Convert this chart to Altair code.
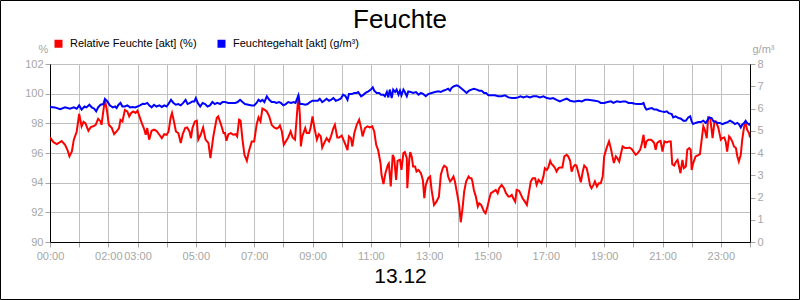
import altair as alt
import pandas as pd

# ---------------- data ----------------
# time in minutes after midnight (13.12)
RED_MIN = [0, 7, 14, 24, 31, 36, 40, 45, 49, 55, 60, 65, 69, 73, 79, 84, 89, 94, 99, 104, 106, 110, 113, 117, 121, 127, 132, 137, 142, 145, 149, 154, 159, 163, 167, 171, 176, 180, 184, 189, 193, 197, 200, 204, 209, 214, 219, 225, 230, 235, 240, 244, 248, 251, 255, 259, 264, 269, 273, 278, 282, 287, 290, 293, 298, 302, 305, 310, 315, 320, 326, 330, 336, 343, 346, 351, 357,
           360, 363, 367, 372, 377, 382, 385, 389, 392, 396, 400, 405, 409, 415, 420, 425, 429, 433, 437, 441, 446, 451, 456, 461, 466, 470, 473, 477, 481, 485, 490, 495, 499, 504, 508, 511, 514, 516, 519, 525, 528, 533, 536, 540, 544, 549, 553, 557, 560, 564, 569, 574, 578, 583, 586, 591, 595, 600, 605, 608, 612, 615, 619, 622, 626, 631, 636, 640, 643, 648, 653, 658, 663, 667, 671, 675, 680, 682, 686, 690, 695, 697, 701, 705, 708, 712, 715, 719,
           720, 723, 727, 730, 734, 735, 739, 741, 744, 747, 751, 754, 758, 763, 767, 770, 773, 778, 782, 785, 790, 795, 800, 804, 808, 811, 816, 819, 823, 826, 830, 833, 838, 842, 845, 849, 852, 856, 861, 864, 867, 869, 872, 876, 880, 883, 887, 890, 893, 896, 900, 904, 907, 912, 917, 921, 924, 929, 934, 938, 943, 946, 950, 953, 957, 960, 965, 969, 972, 977, 981, 985, 989, 993, 998, 1001, 1005, 1008, 1011, 1015, 1018, 1022, 1025, 1029, 1032, 1035, 1039, 1042, 1046, 1049, 1054, 1058, 1063, 1066, 1070, 1073, 1077,
           1080, 1083, 1088, 1092, 1096, 1099, 1104, 1107, 1111, 1114, 1118, 1121, 1125, 1129, 1133, 1137, 1140, 1145, 1150, 1154, 1157, 1160, 1164, 1167, 1171, 1174, 1178, 1183, 1188, 1192, 1197, 1201, 1205, 1209, 1214, 1217, 1221, 1224, 1227, 1231, 1236, 1239, 1243, 1246, 1249, 1253, 1256, 1260, 1264, 1269, 1273, 1277, 1280, 1284, 1288, 1291, 1294, 1297, 1301, 1304, 1308, 1311, 1315, 1318, 1320, 1323, 1328, 1332, 1337, 1341, 1344, 1347, 1351, 1354, 1358, 1361, 1363, 1367, 1370, 1375, 1380, 1383, 1387, 1390, 1393, 1397, 1400, 1404, 1407, 1411, 1414, 1417, 1421, 1424, 1428, 1431, 1434, 1438, 1440]
RED_PCT = [97.05, 96.73, 96.6, 96.8, 96.55, 96.2, 95.77, 96.1, 96.9, 97.45, 98.63, 97.8, 98.1, 98.0, 97.5, 97.75, 97.8, 97.9, 98.3, 98.13, 97.9, 98.9, 99.57, 98.9, 97.9, 97.7, 97.27, 97.45, 97.68, 98.24, 98.13, 98.9, 98.8, 98.47, 98.7, 98.8, 98.7, 98.85, 98.47, 98.0, 97.68, 97.23, 97.68, 96.9, 97.5, 97.57, 97.5, 97.23, 97.0, 97.27, 97.23, 97.45, 98.36, 98.7, 98.13, 97.45, 97.34, 96.67, 97.27, 97.68, 97.72, 97.45, 97.0, 97.68, 98.13, 98.18, 96.9, 97.23, 97.72, 96.9, 96.67, 95.65, 97.12, 98.36, 98.47, 98.0, 97.34,
           97.34, 96.82, 97.27, 97.34, 97.23, 97.27, 97.12, 98.24, 98.18, 96.9, 95.88, 95.47, 96.1, 96.78, 96.78, 97.9, 98.4, 98.13, 98.99, 98.92, 98.8, 98.47, 97.9, 97.72, 97.64, 97.72, 97.86, 97.45, 96.55, 96.78, 97.05, 97.45, 97.05, 96.9, 98.58, 99.89, 98.58, 96.44, 97.12, 97.68, 97.34, 97.34, 97.68, 98.47, 97.68, 96.9, 97.27, 97.12, 96.37, 96.67, 97.0, 96.78, 97.12, 97.68, 97.9, 97.05, 97.05, 97.18, 96.78, 96.55, 96.2, 97.12, 97.0, 96.44, 97.34, 97.9, 98.24, 97.68, 97.12, 97.68, 97.8, 97.72, 97.8, 97.45, 96.55, 96.2, 95.3, 94.53, 93.9, 94.64, 95.2, 95.3, 93.74, 95.88, 95.65, 94.19, 95.47, 95.54,
           95.54, 94.86, 95.99, 96.06, 95.65, 93.63, 95.54, 96.06, 95.77, 95.09, 95.09, 94.75, 94.86, 94.64, 94.19, 92.95, 93.85, 94.3, 94.41, 93.51, 92.5, 92.72, 93.06, 94.53, 94.98, 95.14, 95.02, 94.41, 94.08, 94.19, 94.41, 94.08, 93.18, 92.39, 91.33, 92.39, 93.4, 94.08, 94.41, 94.3, 94.3, 94.08, 93.51, 93.06, 92.39, 92.61, 92.5, 92.27, 92.05, 91.94, 92.39, 92.95, 93.29, 93.4, 93.51, 93.29, 93.63, 93.85, 93.63, 93.29, 93.06, 93.06, 93.18, 92.95, 92.72, 93.51, 93.45, 93.18, 92.95, 92.72, 92.5, 93.29, 94.08, 94.3, 94.3, 93.85, 94.19, 94.08, 93.96, 94.41, 94.98, 94.86, 95.02, 95.47, 95.25, 95.16, 94.98, 94.75, 94.98, 95.02, 95.02, 95.77, 95.88, 95.77, 95.47, 94.75, 95.09,
           95.2, 95.16, 94.53, 94.03, 94.75, 95.16, 94.98, 94.53, 93.81, 93.63, 93.85, 94.08, 93.74, 93.96, 93.96, 94.41, 95.77, 96.33, 96.78, 96.28, 95.77, 95.32, 95.77, 95.65, 95.43, 95.88, 96.44, 96.33, 96.33, 96.37, 96.26, 96.06, 95.88, 95.99, 96.22, 96.55, 97.23, 96.33, 96.78, 96.9, 96.9, 96.82, 96.67, 96.22, 96.67, 96.78, 96.82, 96.1, 96.78, 96.71, 96.78, 96.78, 95.25, 95.16, 95.43, 95.54, 95.09, 94.64, 95.54, 94.98, 95.09, 96.22, 96.33, 96.22, 94.86, 95.3, 95.77, 95.83, 95.92, 97.0, 97.8, 97.57, 97.0, 98.4, 98.36, 97.57, 97.0, 98.13, 98.13, 97.68, 96.9, 97.0, 97.05, 96.78, 96.1, 97.12, 97.0, 96.73, 96.44, 96.33, 95.77, 95.43, 95.88, 96.9, 97.8, 98.0, 97.57, 97.34, 97.05]

BLUE_MIN = [0, 10, 21, 31, 41, 49, 55, 60, 65, 71, 75, 81, 86, 91, 95, 99, 104, 110, 113, 118, 123, 129, 134, 137, 141, 145, 149, 154, 159, 165, 170, 175, 180, 185, 191, 195, 200, 204, 209, 214, 219, 225, 230, 235, 240, 245, 249, 254, 259, 264, 269, 274, 279, 283, 288, 293, 297, 300, 304, 309, 314, 319, 324, 329, 334, 339, 344, 350, 355,
            360, 367, 374, 381, 386, 391, 396, 401, 408, 415, 420, 425, 429, 433, 437, 441, 446, 451, 456, 461, 466, 471, 475, 480, 485, 490, 496, 501, 505, 511, 514, 519, 525, 530, 535, 540, 545, 551, 555, 560, 564, 569, 574, 578, 583, 588, 593, 598, 603, 608, 612, 615, 621, 626, 631, 634, 640, 645, 649, 655, 660, 664, 667, 672, 677, 681, 686, 689, 693, 696, 699, 703, 706, 710, 713, 717,
            720, 723, 727, 730, 734, 737, 742, 747, 753, 758, 763, 768, 773, 778, 785, 792, 799, 804, 809, 815, 819, 823, 826, 831, 837, 841, 847, 852, 857, 862, 867, 872, 878, 883, 888, 893, 897, 902, 909, 915, 922, 929, 936, 943, 950, 957, 963, 968, 974, 981, 987, 994, 1001, 1008, 1015, 1022, 1029, 1035, 1042, 1049, 1056, 1063, 1070, 1077,
            1080, 1087, 1094, 1101, 1107, 1114, 1121, 1128, 1133, 1140, 1147, 1154, 1159, 1166, 1173, 1179, 1184, 1190, 1197, 1203, 1210, 1217, 1221, 1224, 1227, 1232, 1238, 1243, 1248, 1253, 1258, 1264, 1269, 1273, 1279, 1282, 1287, 1293, 1298, 1303, 1308, 1313, 1317, 1320, 1323, 1328, 1334, 1339, 1344, 1349, 1353, 1356, 1361, 1365, 1368, 1373, 1378, 1383, 1389, 1394, 1399, 1404, 1409, 1414, 1417, 1421, 1424, 1428, 1431, 1434, 1438, 1440]
BLUE_GM3 = [6.07, 6.05, 5.97, 6.05, 5.99, 6.05, 5.99, 6.14, 5.95, 6.09, 6.05, 6.17, 6.05, 5.99, 5.87, 6.05, 6.17, 6.2, 6.43, 6.32, 6.14, 6.05, 6.09, 6.02, 6.17, 6.25, 6.09, 6.09, 6.14, 6.05, 6.07, 6.05, 6.09, 6.14, 6.21, 6.2, 6.25, 6.14, 6.05, 6.17, 6.09, 6.14, 6.07, 6.14, 6.09, 6.25, 6.39, 6.25, 6.17, 6.2, 6.14, 6.25, 6.39, 6.2, 6.25, 6.32, 6.32, 6.47, 6.25, 6.09, 6.25, 6.2, 6.09, 6.14, 6.29, 6.2, 6.25, 6.2, 6.29,
            6.29, 6.25, 6.25, 6.25, 6.29, 6.39, 6.29, 6.2, 6.17, 6.14, 6.14, 6.25, 6.39, 6.32, 6.39, 6.29, 6.55, 6.39, 6.29, 6.29, 6.25, 6.29, 6.25, 6.14, 6.2, 6.29, 6.25, 6.29, 6.25, 6.59, 6.2, 6.2, 6.17, 6.2, 6.29, 6.35, 6.35, 6.35, 6.44, 6.29, 6.35, 6.44, 6.35, 6.39, 6.47, 6.35, 6.39, 6.44, 6.62, 6.55, 6.39, 6.65, 6.65, 6.7, 6.7, 6.74, 6.55, 6.62, 6.7, 6.77, 6.85, 6.95, 6.8, 6.7, 6.7, 6.62, 6.62, 6.55, 6.74, 6.5, 6.85, 6.47, 6.85, 6.74, 6.85, 6.62,
            6.8, 6.59, 6.85, 6.74, 6.55, 6.77, 6.74, 6.7, 6.74, 6.62, 6.7, 6.65, 6.55, 6.65, 6.7, 6.74, 6.77, 6.74, 6.8, 6.85, 6.89, 6.8, 6.92, 7.0, 7.04, 7.0, 6.89, 6.8, 6.7, 6.8, 6.85, 6.89, 6.85, 6.8, 6.8, 6.7, 6.7, 6.59, 6.59, 6.59, 6.55, 6.55, 6.59, 6.5, 6.47, 6.47, 6.5, 6.55, 6.5, 6.55, 6.5, 6.55, 6.55, 6.5, 6.55, 6.47, 6.44, 6.47, 6.39, 6.32, 6.39, 6.44, 6.35, 6.32,
            6.32, 6.35, 6.32, 6.39, 6.39, 6.37, 6.35, 6.32, 6.25, 6.25, 6.29, 6.32, 6.25, 6.32, 6.29, 6.32, 6.32, 6.25, 6.25, 6.21, 6.2, 6.2, 6.25, 6.05, 5.95, 5.99, 6.02, 5.95, 5.95, 5.9, 5.87, 5.84, 5.87, 5.79, 5.75, 5.6, 5.65, 5.57, 5.54, 5.45, 5.45, 5.6, 5.65, 5.42, 5.3, 5.35, 5.39, 5.39, 5.45, 5.35, 5.49, 5.6, 5.57, 5.42, 5.42, 5.35, 5.35, 5.3, 5.35, 5.39, 5.45, 5.39, 5.3, 5.35, 5.3, 5.15, 5.27, 5.35, 5.45, 5.35, 5.27, 5.35]

SERIES = ["Relative Feuchte [akt] (%)", "Feuchtegehalt [akt] (g/m³)"]
COLORS = ["#ff0000", "#0000ff"]
HOUR_TICKS = list(range(25))
LABEL_HOURS = [0, 2, 3, 5, 7, 9, 11, 13, 15, 17, 19, 21, 23]
LEFT_TICKS = [90, 92, 94, 96, 98, 100, 102]
RIGHT_TICKS = [0, 1, 2, 3, 4, 5, 6, 7, 8]
TITLE = "Feuchte"
DATE_LABEL = "13.12"

# ---------------- chart ----------------
FONT = "Liberation Sans"
GRAY = "#a6a6a6"
GRID = "#c0c0c0"

red = pd.DataFrame({"t": RED_MIN, "v": RED_PCT, "s": SERIES[0]})
blue = pd.DataFrame({"t": BLUE_MIN, "v": BLUE_GM3, "s": SERIES[1]})

label_list = "[" + ",".join(str(h) for h in LABEL_HOURS) + "]"
label_expr = (
    f"indexof({label_list}, datum.value / 60) >= 0 ? "
    "(datum.value < 600 ? '0' : '') + (datum.value / 60) + ':00' : ''"
)

x_enc = alt.X(
    "t:Q",
    scale=alt.Scale(domain=[0, 1440], nice=False, zero=False),
    axis=alt.Axis(
        values=[h * 60 for h in HOUR_TICKS],
        labelExpr=label_expr,
        labelOverlap=False,
        labelFlush=False,
        labelColor=GRAY,
        labelFontSize=11,
        labelPadding=3,
        tickColor=GRAY,
        tickSize=5,
        domainColor="black",
        grid=True,
        gridColor=GRID,
        title=DATE_LABEL,
        titleFontSize=21,
        titleFontWeight="normal",
        titleColor="black",
        titlePadding=4,
    ),
)

left_axis = alt.Axis(
    orient="left",
    values=LEFT_TICKS,
    labelColor=GRAY,
    labelFontSize=11,
    labelPadding=2,
    tickColor=GRAY,
    tickSize=5,
    domainColor="black",
    grid=True,
    gridColor=GRID,
    title="%",
    titleAngle=0,
    titleX=-7,
    titleY=-15,
    titleAlign="center",
    titleBaseline="middle",
    titleFontSize=11,
    titleFontWeight="normal",
    titleColor=GRAY,
)

right_axis = alt.Axis(
    orient="right",
    values=RIGHT_TICKS,
    labelColor=GRAY,
    labelFontSize=11,
    labelPadding=2,
    tickColor=GRAY,
    tickSize=5,
    domainColor="black",
    grid=False,
    title="g/m³",
    titleAngle=0,
    titleX=2,
    titleY=-15,
    titleAlign="left",
    titleBaseline="middle",
    titleFontSize=11,
    titleFontWeight="normal",
    titleColor=GRAY,
)

y_left = alt.Y("v:Q", scale=alt.Scale(domain=[90, 102], nice=False, zero=False), axis=left_axis)
y_right = alt.Y("v:Q", scale=alt.Scale(domain=[0, 8], nice=False, zero=False), axis=right_axis)

color_enc = alt.Color(
    "s:N",
    scale=alt.Scale(domain=SERIES, range=COLORS),
    legend=alt.Legend(
        title=None,
        orient="none",
        legendX=3,
        legendY=-26,
        direction="horizontal",
        symbolType="square",
        symbolSize=4,
        symbolStrokeWidth=6,
        labelFontSize=11,
        labelColor="black",
        labelFont=FONT,
        labelOffset=6,
        columnPadding=11,
        padding=0,
    ),
)

red_line = alt.Chart(red).mark_line(strokeWidth=2, clip=True).encode(
    x=x_enc, y=y_left, color=color_enc
)

blue_line = alt.Chart(blue).mark_line(strokeWidth=2, clip=True).encode(
    x=x_enc, y=y_right, color=color_enc
)

frame = alt.Chart(pd.DataFrame({"k": [0]})).mark_rect(
    fillOpacity=0, stroke="black", strokeWidth=1, clip=False
).encode(
    x=alt.value(-49.5), x2=alt.value(749.5), y=alt.value(-63.5), y2=alt.value(235.5)
)

chart = (
    alt.layer(red_line, blue_line, frame)
    .resolve_scale(y="independent")
    .properties(
        width=700,
        height=178,
        autosize=alt.AutoSizeParams(type="none"),
        padding={"left": 50, "top": 64, "right": 50, "bottom": 58},
        title=alt.TitleParams(
            TITLE,
            fontSize=26,
            fontWeight="normal",
            color="black",
            font=FONT,
            anchor="middle",
            baseline="alphabetic",
            offset=0,
            dy=54,
        ),
    )
    .configure(font=FONT, background="white")
    .configure_view(stroke="black", strokeWidth=1)
)

chart.save("out.html", embed_options={"renderer": "svg", "actions": False})
